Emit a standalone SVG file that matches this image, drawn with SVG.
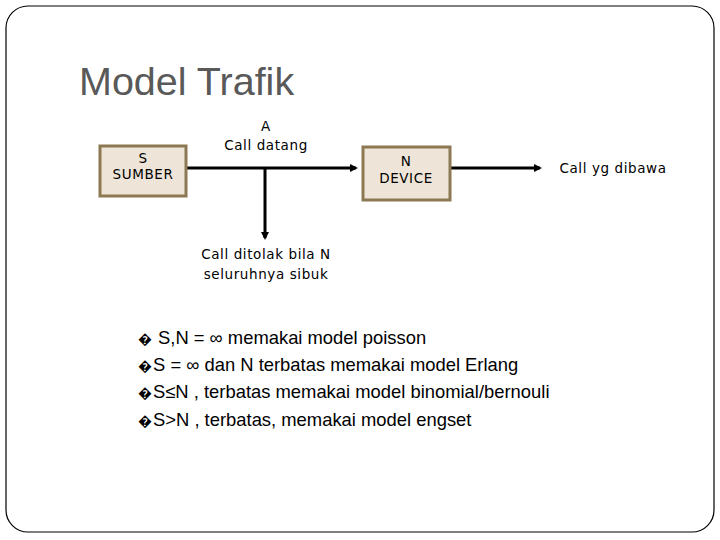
<svg xmlns="http://www.w3.org/2000/svg" width="720" height="540" viewBox="0 0 720 540">
<style>
.box{fill:#eee5d8;stroke:#8c7853;stroke-width:3}
.d{font-family:"DejaVu Sans",sans-serif;font-size:13.5px;letter-spacing:0.6px;fill:#000;text-anchor:middle}
.b{font-family:"Liberation Sans",Arial,sans-serif;font-size:18.4px;fill:#000}
.ln{stroke:#000;stroke-width:3;fill:none}
</style>
<defs><marker id="ah" markerWidth="8" markerHeight="8" refX="6" refY="4" orient="auto" markerUnits="userSpaceOnUse"><path d="M0,0 L8,4 L0,8 z" fill="#000"/></marker></defs>
<rect x="0" y="0" width="720" height="540" fill="#fff"/>
<rect x="6" y="6" width="708" height="526" rx="22" fill="#fff" stroke="#000" stroke-width="1.2"/>
<text x="79" y="95" font-family="Liberation Sans,Arial,sans-serif" font-size="39.5" fill="#595959">Model Trafik</text>
<g id="conn">
<line class="ln" x1="186" y1="168" x2="356" y2="168" marker-end="url(#ah)"/>
<line class="ln" x1="265" y1="168" x2="265" y2="238" marker-end="url(#ah)"/>
<line class="ln" x1="450" y1="168" x2="540" y2="168" marker-end="url(#ah)"/>
</g>
<g id="sumber"><rect class="box" x="100" y="146" width="86" height="50"/><text class="d" x="143" y="163">S</text><text class="d" x="143" y="179">SUMBER</text></g>
<g id="device"><rect class="box" x="363" y="147" width="87" height="53"/><text class="d" x="406" y="166">N</text><text class="d" x="406" y="183">DEVICE</text></g>
<g id="labels">
<text class="d" x="266" y="131">A</text><text class="d" x="266" y="150">Call datang</text>
<text class="d" x="613" y="173">Call  yg dibawa</text>
<text class="d" x="266" y="259">Call ditolak bila N</text><text class="d" x="266" y="279">seluruhnya sibuk</text>
</g>
<g id="bullets" class="b">
<text x="138" y="344" font-size="14">�</text><text x="158" y="344">S,N = ∞  memakai model poisson</text>
<text x="138" y="371" font-size="14">�</text><text x="153" y="371">S = ∞ dan N terbatas memakai model Erlang</text>
<text x="138" y="398" font-size="14">�</text><text x="153" y="398">S≤N , terbatas memakai model binomial/bernouli</text>
<text x="138" y="426" font-size="14">�</text><text x="153" y="426">S&gt;N , terbatas, memakai model engset</text>
</g>
</svg>
